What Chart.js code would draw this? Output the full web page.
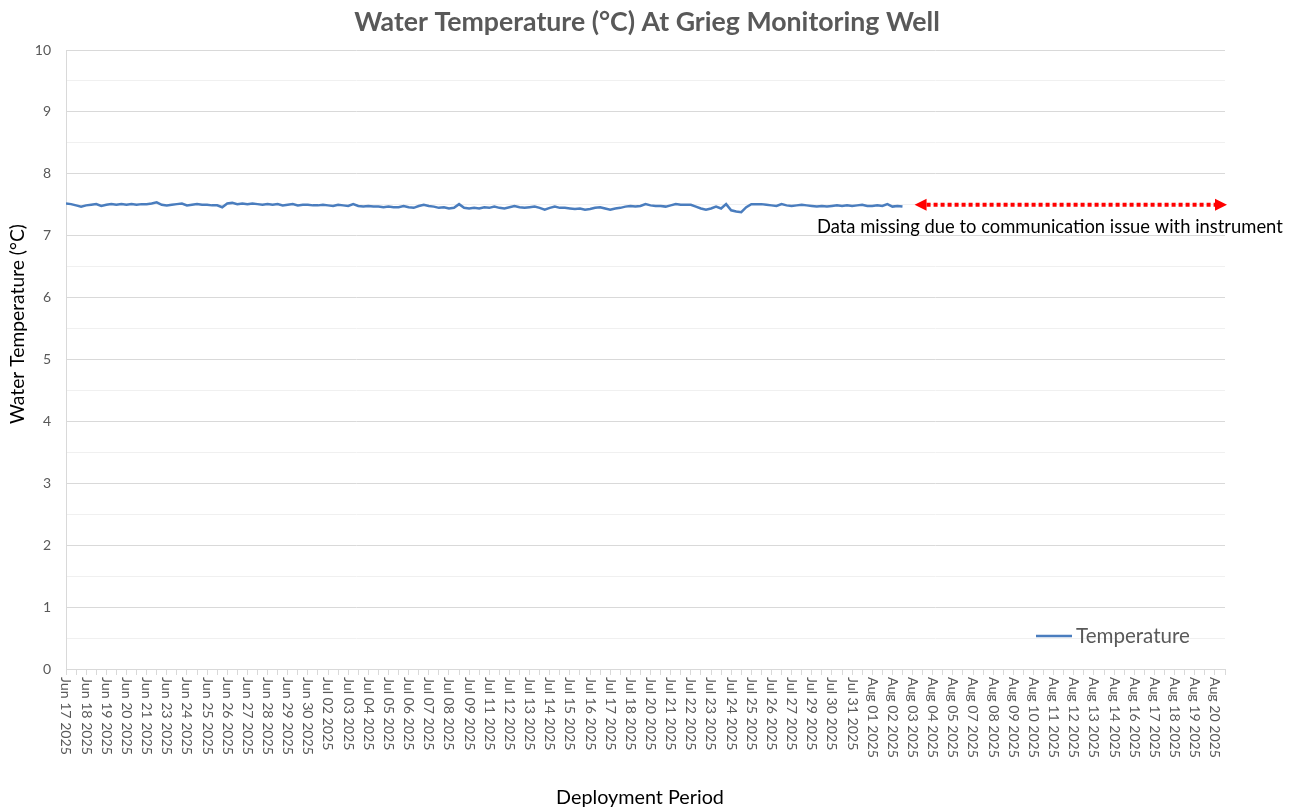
<!DOCTYPE html>
<html>
<head>
<meta charset="utf-8">
<script src="https://cdn.jsdelivr.net/npm/chart.js@4/dist/chart.umd.min.js"></script>
<style>
  html, body { margin: 0; padding: 0; background: #ffffff; }
  #wrap { width: 1297px; height: 811px; }
</style>
</head>
<body>
<div id="wrap"><canvas id="c" width="1297" height="811"></canvas></div>
<script>
// ---------------- DATA ----------------
const chartTitle = 'Water Temperature (°C) At Grieg Monitoring Well';
const xAxisTitle = 'Deployment Period';
const yAxisTitle = 'Water Temperature (°C)';
const seriesName = 'Temperature';
const noteText = 'Data missing due to communication issue with instrument';

// category tick labels (one per major tick)
const tickLabels = [
  'Jun 17 2025','Jun 18 2025','Jun 19 2025','Jun 20 2025','Jun 21 2025','Jun 23 2025',
  'Jun 24 2025','Jun 25 2025','Jun 26 2025','Jun 27 2025','Jun 28 2025','Jun 29 2025',
  'Jun 30 2025','Jul 02 2025','Jul 03 2025','Jul 04 2025','Jul 05 2025','Jul 06 2025',
  'Jul 07 2025','Jul 08 2025','Jul 09 2025','Jul 11 2025','Jul 12 2025','Jul 13 2025',
  'Jul 14 2025','Jul 15 2025','Jul 16 2025','Jul 17 2025','Jul 18 2025','Jul 20 2025',
  'Jul 21 2025','Jul 22 2025','Jul 23 2025','Jul 24 2025','Jul 25 2025','Jul 26 2025',
  'Jul 27 2025','Jul 29 2025','Jul 30 2025','Jul 31 2025','Aug 01 2025','Aug 02 2025',
  'Aug 03 2025','Aug 04 2025','Aug 05 2025','Aug 07 2025','Aug 08 2025','Aug 09 2025',
  'Aug 10 2025','Aug 11 2025','Aug 12 2025','Aug 13 2025','Aug 14 2025','Aug 16 2025',
  'Aug 17 2025','Aug 18 2025','Aug 19 2025','Aug 20 2025'
];

// readings, one every quarter of a tick interval, starting at the first tick
const SAMPLE_STEP = 0.25;
const temperature = [
  7.52,7.51,7.49,7.47,7.49,7.50,7.51,7.48,7.50,7.51,7.50,7.51,7.50,7.51,7.50,7.51,
  7.51,7.52,7.54,7.50,7.49,7.50,7.51,7.52,7.49,7.50,7.51,7.50,7.50,7.49,7.49,7.46,
  7.52,7.53,7.51,7.52,7.51,7.52,7.51,7.50,7.51,7.50,7.51,7.49,7.50,7.51,7.49,7.50,
  7.50,7.49,7.49,7.50,7.49,7.48,7.50,7.49,7.48,7.51,7.48,7.47,7.48,7.47,7.47,7.46,
  7.47,7.46,7.46,7.48,7.46,7.45,7.48,7.50,7.48,7.47,7.45,7.46,7.44,7.45,7.51,7.45,
  7.44,7.45,7.44,7.46,7.45,7.47,7.45,7.44,7.46,7.48,7.46,7.45,7.46,7.47,7.45,7.42,
  7.45,7.47,7.45,7.45,7.44,7.43,7.44,7.42,7.43,7.45,7.46,7.44,7.42,7.44,7.45,7.47,
  7.48,7.47,7.48,7.51,7.49,7.48,7.48,7.47,7.49,7.51,7.50,7.50,7.50,7.47,7.44,7.42,
  7.44,7.47,7.44,7.51,7.41,7.39,7.38,7.46,7.51,7.51,7.51,7.50,7.49,7.48,7.51,7.49,
  7.48,7.49,7.50,7.49,7.48,7.47,7.48,7.47,7.48,7.49,7.48,7.49,7.48,7.49,7.50,7.48,
  7.48,7.49,7.48,7.51,7.47,7.48,7.47
];

// annotation arrow span (in tick units) and level (°C)
const missingFrom = 42.1;
const missingTo = 57.6;
const missingLevel = 7.5;

const yMin = 0, yMax = 10;

// ---------------- STYLE ----------------
const FONT = 'Lato, "Open Sans", "Liberation Sans", sans-serif';
const GRAY_TEXT = '#595959';
const AXIS_GRAY = '#d9d9d9';
const MINOR_GRID = '#f0f0f0';
const LINE_BLUE = '#4a7dbe';

function fitSize(ctx, text, target, weight) {
  ctx.font = `${weight} 20px ${FONT}`;
  const w = ctx.measureText(text).width;
  return 20 * target / w;
}

const decor = {
  id: 'decor',
  afterDraw(chart) {
    const { ctx, scales: { x, y } } = chart;
    ctx.save();

    // Title
    let s = fitSize(ctx, chartTitle, 586, 'bold');
    ctx.font = `bold ${s}px ${FONT}`;
    ctx.fillStyle = GRAY_TEXT;
    ctx.textAlign = 'center';
    ctx.textBaseline = 'middle';
    ctx.fillText(chartTitle, 647, 22);

    // X tick labels, rotated clockwise
    s = fitSize(ctx, tickLabels[0], 78, 'normal');
    ctx.font = `normal ${s}px ${FONT}`;
    ctx.fillStyle = GRAY_TEXT;
    ctx.textAlign = 'left';
    ctx.textBaseline = 'middle';
    tickLabels.forEach((lab, i) => {
      const px = x.getPixelForValue(i);
      ctx.save();
      ctx.translate(px, y.bottom + 8);
      ctx.rotate(Math.PI / 2);
      ctx.fillText(lab, 0, 0);
      ctx.restore();
    });

    // X axis title
    s = fitSize(ctx, xAxisTitle, 168, 'normal');
    ctx.font = `normal ${s}px ${FONT}`;
    ctx.fillStyle = '#000000';
    ctx.textAlign = 'center';
    ctx.fillText(xAxisTitle, 640, 798);

    // Y axis title
    s = fitSize(ctx, yAxisTitle, 200, 'normal');
    ctx.font = `normal ${s}px ${FONT}`;
    ctx.save();
    ctx.translate(18, 324);
    ctx.rotate(-Math.PI / 2);
    ctx.fillText(yAxisTitle, 0, 0);
    ctx.restore();

    // Missing-data arrow
    const ay = y.getPixelForValue(missingLevel);
    const ax0 = x.getPixelForValue(missingFrom);
    const ax1 = x.getPixelForValue(missingTo);
    const head = 12;
    ctx.strokeStyle = '#ff0000';
    ctx.fillStyle = '#ff0000';
    ctx.lineWidth = 4;
    ctx.setLineDash([4, 3]);
    ctx.beginPath();
    ctx.moveTo(ax0 + head, ay);
    ctx.lineTo(ax1 - head, ay);
    ctx.stroke();
    ctx.setLineDash([]);
    ctx.beginPath();
    ctx.moveTo(ax0, ay); ctx.lineTo(ax0 + head, ay - 6); ctx.lineTo(ax0 + head, ay + 6); ctx.closePath();
    ctx.fill();
    ctx.beginPath();
    ctx.moveTo(ax1, ay); ctx.lineTo(ax1 - head, ay - 6); ctx.lineTo(ax1 - head, ay + 6); ctx.closePath();
    ctx.fill();

    // Note text
    s = fitSize(ctx, noteText, 466, 'normal');
    ctx.font = `normal ${s}px ${FONT}`;
    ctx.fillStyle = '#000000';
    ctx.textAlign = 'left';
    ctx.textBaseline = 'middle';
    ctx.fillText(noteText, 817, 227);

    // Legend
    const ds = chart.data.datasets[0];
    ctx.strokeStyle = ds.borderColor;
    ctx.lineWidth = 2.5;
    ctx.beginPath();
    ctx.moveTo(1036, 636); ctx.lineTo(1072, 636);
    ctx.stroke();
    s = fitSize(ctx, ds.label, 114, 'normal');
    ctx.font = `normal ${s}px ${FONT}`;
    ctx.fillStyle = GRAY_TEXT;
    ctx.fillText(ds.label, 1076, 636);

    ctx.restore();
  }
};

new Chart(document.getElementById('c').getContext('2d'), {
  type: 'line',
  data: {
    datasets: [{
      label: seriesName,
      data: temperature.map((v, i) => ({ x: i * SAMPLE_STEP, y: v })),
      borderColor: LINE_BLUE,
      borderWidth: 2.5,
      pointRadius: 0,
      tension: 0,
      fill: false
    }]
  },
  options: {
    responsive: false,
    animation: false,
    events: [],
    layout: { padding: { top: 50, right: 72, left: 0, bottom: 0 } },
    plugins: { legend: { display: false }, tooltip: { enabled: false }, title: { display: false } },
    scales: {
      x: {
        type: 'linear',
        min: 0,
        max: tickLabels.length - 0.5,
        afterFit(s) { s.height = 142; },
        border: { color: AXIS_GRAY, width: 1 },
        grid: { drawOnChartArea: false, drawTicks: true, tickLength: 6, color: AXIS_GRAY },
        ticks: { display: false, stepSize: 0.5, autoSkip: false }
      },
      y: {
        min: yMin,
        max: yMax,
        afterFit(s) { s.width = 66; },
        border: { color: AXIS_GRAY, width: 1 },
        grid: {
          drawTicks: false,
          color: c => Number.isInteger(c.tick.value) ? AXIS_GRAY : MINOR_GRID
        },
        ticks: {
          stepSize: 0.5,
          padding: 15,
          color: GRAY_TEXT,
          font: { family: FONT, size: 14 },
          callback: v => Number.isInteger(v) ? String(v) : ''
        }
      }
    }
  },
  plugins: [decor]
});
</script>
</body>
</html>
